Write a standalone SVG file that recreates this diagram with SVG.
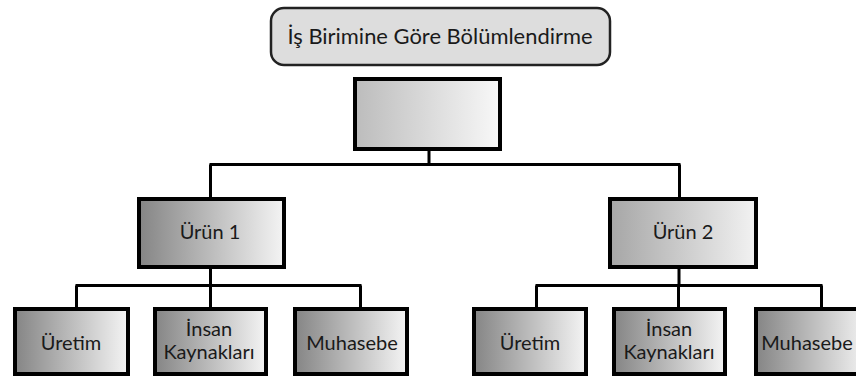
<svg xmlns="http://www.w3.org/2000/svg" width="856" height="377" viewBox="0 0 856 377">
<style>
.box{stroke:#000;stroke-width:4}
.t{font-family:Lato,"Open Sans","Liberation Sans",sans-serif;font-size:20px;fill:#1a1a1a;text-anchor:middle}
.c{fill:none;stroke:#000;stroke-width:3}
</style>
<defs>
<linearGradient id="g1" x1="0" y1="0" x2="1" y2="0"><stop offset="0" stop-color="#858585"/><stop offset="1" stop-color="#f4f4f4"/></linearGradient>
<linearGradient id="g2" x1="0" y1="0" x2="1" y2="0"><stop offset="0" stop-color="#a6a6a6"/><stop offset="1" stop-color="#f2f2f2"/></linearGradient>
<linearGradient id="g3" x1="0" y1="0" x2="1" y2="0"><stop offset="0" stop-color="#bcbcbc"/><stop offset="1" stop-color="#f8f8f8"/></linearGradient>
</defs>
<g id="connectors">
<path class="c" d="M429,151V164.5M209.5,164.5H680.5M210.5,164.5V197M679.5,164.5V197"/>
<path class="c" d="M210.5,269V285.5M75.5,285.5H361.5M76.5,285.5V307M210.5,285.5V307M360.5,285.5V307"/>
<path class="c" d="M679,269V285.5M535.5,285.5H822.5M536.5,285.5V307M678.5,285.5V307M821.5,285.5V307"/>
</g>
<g id="title">
<rect x="271" y="8" width="339" height="57" rx="13" fill="#dddddd" stroke="#222" stroke-width="2.5"/>
<text class="t" x="440" y="44" style="font-size:22px" textLength="305" lengthAdjust="spacingAndGlyphs">İş Birimine Göre Bölümlendirme</text>
</g>
<g id="top"><rect class="box" x="355" y="79" width="145" height="70" fill="url(#g3)"/></g>
<g id="urun1"><rect class="box" x="139" y="199" width="145" height="68" fill="url(#g1)"/><text class="t" x="210" y="239">Ürün 1</text></g>
<g id="urun2"><rect class="box" x="610" y="199" width="146" height="68" fill="url(#g2)"/><text class="t" x="683" y="239">Ürün 2</text></g>
<g id="uretim1"><rect class="box" x="15" y="309" width="113" height="65" fill="url(#g1)"/><text class="t" x="71" y="350">Üretim</text></g>
<g id="ik1"><rect class="box" x="155" y="309" width="111" height="65" fill="url(#g1)"/><text class="t" x="209" y="336">İnsan</text><text class="t" x="209" y="359">Kaynakları</text></g>
<g id="muh1"><rect class="box" x="295" y="309" width="112" height="65" fill="url(#g1)"/><text class="t" x="352" y="350">Muhasebe</text></g>
<g id="uretim2"><rect class="box" x="474" y="309" width="112" height="65" fill="url(#g1)"/><text class="t" x="530" y="350">Üretim</text></g>
<g id="ik2"><rect class="box" x="614" y="309" width="111" height="65" fill="url(#g1)"/><text class="t" x="669" y="336">İnsan</text><text class="t" x="669" y="359">Kaynakları</text></g>
<g id="muh2"><rect class="box" x="756" y="309" width="112" height="65" fill="url(#g1)"/><text class="t" x="807" y="350">Muhasebe</text></g>
</svg>
